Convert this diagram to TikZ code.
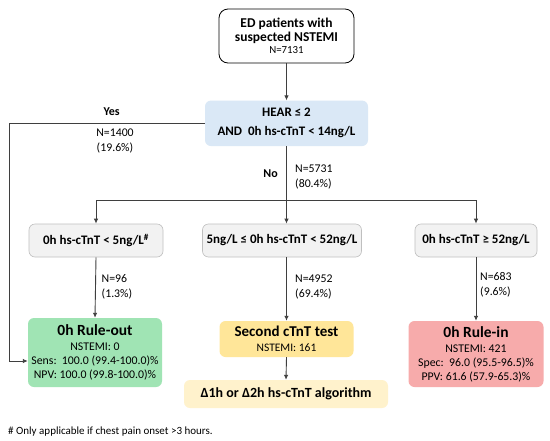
\documentclass[tikz,border=0pt]{standalone}
\usepackage{fontspec}
\setmainfont{Carlito}
\usetikzlibrary{arrows.meta}
\definecolor{linegray}{HTML}{3F3F3F}
\definecolor{bluefill}{HTML}{DAE8F6}
\definecolor{greyfill}{HTML}{F2F2F2}
\definecolor{greyline}{HTML}{BFBFBF}
\definecolor{greenfill}{HTML}{A0E4B4}
\definecolor{yellowfill}{HTML}{FFE699}
\definecolor{lightyellow}{HTML}{FFF2CC}
\definecolor{redfill}{HTML}{F7ABAB}
\tikzset{
  conn/.style={draw=linegray, line width=0.9pt},
  arr/.style={conn, -{Latex[length=5pt,width=4.5pt]}},
  box/.style={rounded corners=6pt, align=center, inner sep=0pt, text=black},
  greybox/.style={box, fill=greyfill, draw=greyline, line width=0.6pt,
    font=\bfseries\fontsize{13}{15}\selectfont, minimum height=33pt},
  colbox/.style={box, font=\fontsize{11.8}{14}\selectfont},
  lab/.style={font=\fontsize{11.8}{14.5}\selectfont, align=left, anchor=west, inner sep=0pt},
  yn/.style={font=\bfseries\fontsize{12}{13}\selectfont, inner sep=0pt},
}
\begin{document}
\begin{tikzpicture}[x=1pt,y=-1pt]
\fill[white] (0,0) rectangle (550,440);
\useasboundingbox (0,0) rectangle (550,440);

% boxes
\node[box, draw=black, line width=0.8pt, rounded corners=9pt, minimum width=135pt, minimum height=54pt,
  font=\bfseries\fontsize{13.5}{13.5}\selectfont] (top) at (286.5,36)
  {ED patients with\\suspected NSTEMI\\[-1pt]{\mdseries\fontsize{10.8}{11}\selectfont N=7131}};
\node[box, fill=bluefill, minimum width=163pt, minimum height=45.5pt,
  font=\bfseries\fontsize{13}{19}\selectfont] (hear) at (286.5,123.3)
  {HEAR ≤ 2\\AND\ \ 0h hs-cTnT < 14ng/L};

\node[greybox, minimum width=134pt] (A) at (96,240.5) {0h hs-cTnT < 5ng/L\textsuperscript{\#}};
\node[greybox, minimum width=159pt] (B) at (282,240.5) {5ng/L ≤ 0h hs-cTnT < 52ng/L};
\node[greybox, minimum width=122pt] (C) at (476,240.5) {0h hs-cTnT ≥ 52ng/L};

\node[colbox, fill=greenfill, minimum width=134pt, minimum height=69pt] (out) at (95,352.5)
  {{\bfseries\fontsize{15.5}{16}\selectfont 0h Rule-out}\\[1pt]NSTEMI: 0\\Sens:\ \ 100.0 (99.4-100.0)\%\\NPV: 100.0 (99.8-100.0)\%};
\node[colbox, fill=yellowfill, minimum width=134pt, minimum height=36pt] (second) at (286.5,339)
  {{\bfseries\fontsize{15}{16}\selectfont Second cTnT test}\\[1pt]{\fontsize{11.5}{12}\selectfont NSTEMI: 161}};
\node[box, fill=lightyellow, minimum width=204pt, minimum height=28pt,
  font=\bfseries\fontsize{14}{16}\selectfont] (algo) at (286,394)
  {Δ1h or Δ2h hs-cTnT algorithm};
\node[colbox, fill=redfill, minimum width=135pt, minimum height=66pt] (in) at (476,354)
  {{\bfseries\fontsize{15.5}{16}\selectfont 0h Rule-in}\\[1pt]NSTEMI: 421\\Spec:\ \ 96.0 (95.5-96.5)\%\\PPV: 61.6 (57.9-65.3)\%};

% connectors
\coordinate (br) at (286.5,200);
\coordinate (yc1) at (9,123.3);
\coordinate (yc2) at (9,361);
\draw[arr] (top.south) -- (hear.north);
\draw[conn] (hear.south) -- (br);
\draw[conn] (A.north |- br) -- (C.north |- br);
\draw[arr] (A.north |- br) -- (A.north);
\draw[arr] (br) -- (br |- B.north);
\draw[arr] (C.north |- br) -- (C.north);
\draw[arr] (A.south) -- (out.north);
\draw[arr] (br |- B.south) -- (second.north);
\draw[arr] (second.south) -- (algo.north);
\draw[arr] (C.south) -- (in.north);
\draw[arr] (hear.west) -- (yc1) -- (yc2) -- (out.west |- yc2);

% labels
\node[yn] (yes) at (111.6,112) {Yes};
\node[lab, align=center, anchor=center] (n1400) at (115,141) {N=1400\\(19.6\%)};
\node[yn, anchor=east] (no) at (278,174) {No};
\node[lab] (n5731) at (295,177) {N=5731\\(80.4\%)};
\node[lab] (n96) at (101.5,287) {N=96\\(1.3\%)};
\node[lab] (n4952) at (295,287) {N=4952\\(69.4\%)};
\node[lab] (n683) at (480,285) {N=683\\(9.6\%)};

\node[anchor=west, inner sep=0pt, font=\fontsize{11}{12}\selectfont] (foot) at (8,432)
  {\# Only applicable if chest pain onset >3 hours.};
\end{tikzpicture}
\end{document}
